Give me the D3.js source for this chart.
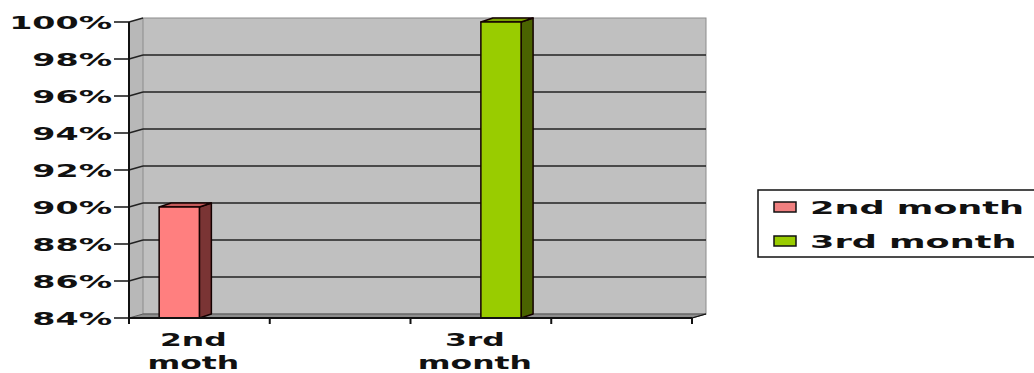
<!DOCTYPE html>
<html>
<head>
<meta charset="utf-8">
<script src="https://cdn.jsdelivr.net/npm/d3@7"></script>
<style>
  html, body { margin: 0; padding: 0; background: #fff; }
  svg { display: block; }
  text { font-family: "DejaVu Sans", sans-serif; font-weight: bold; fill: #111; }
</style>
</head>
<body>
<div id="chart"></div>
<script>
// values
const categories = ["2nd moth", "", "3rd month", ""];
const seriesNames = ["2nd month", "3rd month"];
const values2nd = [90, null, null, null];
const values3rd = [null, null, 100, null];
const yTicks = [84, 86, 88, 90, 92, 94, 96, 98, 100];

const seriesStyle = [
  { front: "#ff7f7f", side: "#7a3434", top: "#c45a5a", swatch: "#f08080" },
  { front: "#99cc00", side: "#4a6300", top: "#7aa300", swatch: "#99cc00" }
];

const W = 1034, H = 373;
const stretch = 1.85;          // the source text is wide, stretch glyphs
const dx = 14, dy = -4;        // 3d depth of walls
const bdx = 12, bdy = -4;      // 3d depth of bars

const svg = d3.select("#chart").append("svg").attr("width", W).attr("height", H);

const x = d3.scaleBand().domain(d3.range(categories.length)).range([129, 692]);
const y = d3.scaleLinear().domain([84, 100]).range([318, 22]);
const y0 = y(84);

// side wall
svg.append("polygon")
  .attr("points", [[129, y(100)], [129 + dx, y(100) + dy], [129 + dx, y0 + dy], [129, y0]].join(" "))
  .attr("fill", "#b8b8b8");

// back wall
svg.append("rect")
  .attr("x", 129 + dx).attr("y", y(100) + dy)
  .attr("width", 692 - 129).attr("height", y0 - y(100))
  .attr("fill", "#c0c0c0")
  .attr("stroke", "#8c8c8c").attr("stroke-width", 1);

// floor
svg.append("polygon")
  .attr("points", [[129, y0], [129 + dx, y0 + dy], [692 + dx, y0 + dy], [692, y0]].join(" "))
  .attr("fill", "#8e8e8e").attr("stroke", "#555").attr("stroke-width", 1);

// gridlines (back wall + side wall)
const grid = svg.append("g").attr("stroke", "#222").attr("stroke-width", 1.4);
grid.selectAll("line.h")
  .data(yTicks.filter(t => t > 84 && t < 100))
  .join("line").attr("class", "h")
  .attr("x1", 129 + dx).attr("x2", 692 + dx)
  .attr("y1", d => y(d) + dy).attr("y2", d => y(d) + dy);
grid.selectAll("line.s")
  .data(yTicks.filter(t => t > 84))
  .join("line").attr("class", "s")
  .attr("x1", 129).attr("x2", 129 + dx)
  .attr("y1", d => y(d)).attr("y2", d => y(d) + dy);

// bars
const bw = x.bandwidth() / 3.5;
const series = [values2nd, values3rd];
series.forEach((vals, si) => {
  const st = seriesStyle[si];
  const g = svg.append("g").attr("stroke", "#140000").attr("stroke-width", 1.5).attr("stroke-linejoin", "round");
  vals.forEach((v, ci) => {
    if (v == null) return;
    const bx = x(ci) + bw * 0.75 + si * bw;
    const top = y(v);
    g.append("polygon")
      .attr("points", [[bx + bw, top], [bx + bw + bdx, top + bdy], [bx + bw + bdx, y0 + bdy], [bx + bw, y0]].join(" "))
      .attr("fill", st.side);
    g.append("polygon")
      .attr("points", [[bx, top], [bx + bdx, top + bdy], [bx + bw + bdx, top + bdy], [bx + bw, top]].join(" "))
      .attr("fill", st.top);
    g.append("rect")
      .attr("x", bx).attr("y", top).attr("width", bw).attr("height", y0 - top)
      .attr("fill", st.front);
  });
});

// front axes
const axis = svg.append("g").attr("stroke", "#111").attr("stroke-width", 2);
axis.append("line").attr("x1", 129).attr("x2", 129).attr("y1", y(100)).attr("y2", y0 + 5);
axis.append("line").attr("x1", 129).attr("x2", 692).attr("y1", y0).attr("y2", y0);
axis.append("line").attr("x1", 692).attr("x2", 692 + dx).attr("y1", y0).attr("y2", y0 + dy).attr("stroke-width", 1.2);
axis.selectAll("line.yt").data(yTicks).join("line").attr("class", "yt")
  .attr("x1", 114).attr("x2", 129).attr("y1", d => y(d)).attr("y2", d => y(d)).attr("stroke-width", 1.5);
axis.selectAll("line.xt").data(d3.range(categories.length + 1)).join("line").attr("class", "xt")
  .attr("x1", d => 129 + d * x.step()).attr("x2", d => 129 + d * x.step())
  .attr("y1", y0).attr("y2", y0 + 6);

// y labels
svg.append("g").selectAll("g").data(yTicks).join("g")
  .attr("transform", d => `translate(112,${y(d) + 6.5}) scale(${stretch},1)`)
  .append("text").attr("text-anchor", "end").style("font-size", "18px")
  .text(d => d + "%");

// x labels
categories.forEach((c, i) => {
  if (!c) return;
  c.split(" ").forEach((part, li) => {
    svg.append("g")
      .attr("transform", `translate(${x(i) + x.bandwidth() / 2 - 6},${346 + li * 23}) scale(${stretch},1)`)
      .append("text").attr("text-anchor", "middle").style("font-size", "17px")
      .text(part);
  });
});

// legend
const lg = svg.append("g");
lg.append("rect").attr("x", 758).attr("y", 190).attr("width", 300).attr("height", 67)
  .attr("fill", "#fff").attr("stroke", "#111").attr("stroke-width", 1.5);
seriesNames.forEach((name, i) => {
  const cy = 207 + i * 34;
  lg.append("rect").attr("x", 774).attr("y", cy - 5).attr("width", 22).attr("height", 10)
    .attr("fill", seriesStyle[i].swatch).attr("stroke", "#111").attr("stroke-width", 1.5);
  lg.append("g").attr("transform", `translate(810,${cy + 6.5}) scale(1.95,1)`)
    .append("text").style("font-size", "18px").text(name);
});
</script>
</body>
</html>
